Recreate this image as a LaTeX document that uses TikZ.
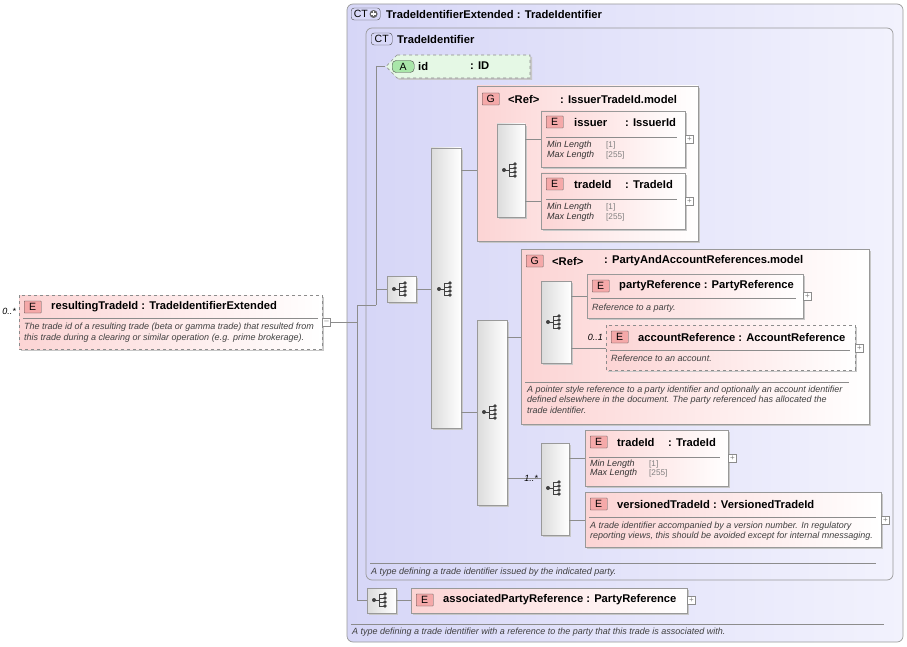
\documentclass[tikz,border=0pt]{standalone}
\usepackage{fontspec}
\setmainfont{Liberation Sans}
\begin{document}
\begin{tikzpicture}[x=1pt,y=-1pt,
  ct/.style={draw=black!40,rounded corners=6pt,left color=ctL,right color=ctR,line width=0.7pt},
  elem/.style={draw=black!40,left color=elL,right color=white,line width=0.6pt},
  opt/.style={dashed,draw=black!45},
  seqb/.style={draw=black!40,left color=black!14,right color=white,line width=0.6pt},
  badge/.style={draw=black!70,rounded corners=0.5pt,fill=#1,inner sep=0pt,minimum width=17pt,minimum height=12pt,font=\fontsize{10.5}{11}\selectfont,anchor=west},
  ttl/.style={anchor=west,inner sep=0pt,font=\fontsize{11.2}{13}\selectfont\bfseries},
  dsc/.style={anchor=west,inner sep=0pt,font=\fontsize{9}{10}\selectfont\itshape,text=black!75},
  fct/.style={anchor=west,inner sep=0pt,font=\fontsize{9}{10}\selectfont\itshape,text=black!80},
  fv/.style={anchor=west,inner sep=0pt,font=\fontsize{8.2}{10}\selectfont,text=black!50},
  card/.style={anchor=east,inner sep=0pt,font=\fontsize{9}{10}\selectfont\itshape},
  conn/.style={draw=black!45,line width=0.6pt},
  pm/.style={draw=black!45,fill=white,minimum size=8pt,inner sep=0pt,font=\fontsize{8}{8}\selectfont,text=black!50}]
\definecolor{ctL}{HTML}{D6D6F7}\definecolor{ctR}{HTML}{F2F2FD}
\definecolor{elL}{HTML}{FCD4D4}\definecolor{eB}{HTML}{F5A9A9}
\definecolor{aB}{HTML}{A9E6A9}\definecolor{cB}{HTML}{D8D8F8}
\newcommand\shd[4]{\fill[black!22] (#1+2,#2+2) rectangle (#3+2,#4+2);}
\newcommand\seqicon[2]{%
  \fill[black!75] (#1-8,#2) circle (2);
  \draw[black!75,line width=0.9pt] (#1-8,#2) -- (#1-3,#2) (#1-3,#2-6) -- (#1-3,#2+6);
  \foreach \d in {-6,-2,2,6}{\draw[black!75,line width=0.9pt] (#1-3,#2+\d) -- (#1+2,#2+\d); \fill[black!75] (#1+3,#2+\d) circle (1.8);}}
\useasboundingbox (0,0) rectangle (907,647);
% outer CT
\draw[ct] (347,4) rectangle (903,642);
\node[badge=cB,rounded corners=3pt,minimum width=29pt] (b1) at (351,14) {CT\,\tikz[baseline=-3.5pt,x=1pt,y=1pt]{\fill[black!60] (0,0) circle (4);\draw[white,line width=1.2pt] (-2.5,0)--(2.5,0) (0,-2.5)--(0,2.5);}};
\node[ttl] (t1) at (386,14) {TradeIdentifierExtended\ : TradeIdentifier};
\draw[black!45] (351,624) -- (884,624);
\node[dsc] at (352,632) {A type defining a trade identifier with a reference to the party that this trade is associated with.};
% inner CT
\draw[ct] (366,28) rectangle (893,580);
\node[badge=cB,rounded corners=3pt,minimum width=21pt] (b2) at (371,39) {CT};
\node[ttl] (t2) at (397,39) {TradeIdentifier};
\draw[black!45] (370,563) -- (876,563);
\node[dsc] at (371,572) {A type defining a trade identifier issued by the indicated party.};
% trunk lines
\coordinate (r) at (331,322);
\draw[conn] (r) -- (357,322) (357,305) -- (357,600) (357,305) -- (376,305) (376,66) -- (376,305);
\draw[conn] (376,66) -- (385,66) (376,289) -- (387,289) (357,600) -- (367,600);
% attribute id
\fill[black!22] (399,57) -- (532,57) -- (532,80) -- (399,80) -- (389,69) -- cycle;
\draw[opt,fill=aB!30,line width=0.6pt] (397,55) -- (530,55) -- (530,78) -- (397,78) -- (386,66.5) -- cycle;
\node[badge=aB,rounded corners=4pt,minimum width=22pt] at (392,66.5) {A};
\node[ttl] at (418,66) {id};
\node[ttl] at (470,66) {: ID};
% resultingTradeId
\shd{19}{295}{322}{349}
\draw[elem,opt] (19,295) rectangle (322,349);
\node[badge=eB] at (24,307) {E};
\node[ttl] at (51,307) {resultingTradeId\ : TradeIdentifierExtended};
\draw[black!45] (23,318) -- (318,318);
\node[dsc] at (24,327) {The trade id of a resulting trade (beta or gamma trade) that resulted from};
\node[dsc] at (24,338) {this trade during a clearing or similar operation (e.g. prime brokerage).};
\node[card] at (16,311) {0..*};
\node[pm] at (326.5,322) {--};
% seq 1
\shd{387}{276}{416}{302}\draw[seqb] (387,276) rectangle (416,302);\seqicon{402}{289}
\draw[conn] (416,289) -- (431,289);
% big seq
\shd{431}{148}{461}{428}\draw[seqb] (431,148) rectangle (461,428);\seqicon{447}{289}
\draw[conn] (461,170) -- (497,170) (461,412) -- (477,412);
% group IssuerTradeId
\shd{477}{86}{698}{241}\draw[elem] (477,86) rectangle (698,241);
\node[badge=eB] at (482,99) {G};
\node[ttl] at (508,99) {<Ref>};
\node[ttl] at (560,99) {: IssuerTradeId.model};
\shd{497}{124}{525}{217}\draw[seqb] (497,124) rectangle (525,217);\seqicon{512}{170}
\draw[conn] (525,139) -- (541,139) (525,201) -- (541,201);
% issuer
\shd{541}{111}{685}{167}\draw[elem] (541,111) rectangle (685,167);
\node[badge=eB] at (546,122) {E};
\node[ttl] at (574,122) {issuer};
\node[ttl] at (625,122) {: IssuerId};
\draw[black!45] (546,137) -- (677,137);
\node[fct] at (547,145) {Min Length};\node[fv] at (606,145) {[1]};
\node[fct] at (547,155) {Max Length};\node[fv] at (606,155) {[255]};
\node[pm] at (689.5,139) {+};
% tradeId
\shd{541}{173}{685}{229}\draw[elem] (541,173) rectangle (685,229);
\node[badge=eB] at (546,184) {E};
\node[ttl] at (574,184) {tradeId};
\node[ttl] at (625,184) {: TradeId};
\draw[black!45] (546,199) -- (677,199);
\node[fct] at (547,207) {Min Length};\node[fv] at (606,207) {[1]};
\node[fct] at (547,217) {Max Length};\node[fv] at (606,217) {[255]};
\node[pm] at (689.5,201) {+};
% lower seq
\shd{477}{320}{507}{505}\draw[seqb] (477,320) rectangle (507,505);\seqicon{492}{412}
\draw[conn] (507,337) -- (521,337) (507,478) -- (541,478);
% group PartyAndAccountReferences
\shd{521}{249}{869}{424}\draw[elem] (521,249) rectangle (869,424);
\node[badge=eB] at (526,261) {G};
\node[ttl] at (552,261) {<Ref>};
\node[ttl] at (604,261) {: PartyAndAccountReferences.model};
\shd{541}{281}{571}{363}\draw[seqb] (541,281) rectangle (571,363);\seqicon{556}{322}
\draw[conn] (571,296) -- (587,296) (571,348) -- (606,348);
\shd{587}{274}{803}{318}\draw[elem] (587,274) rectangle (803,318);
\node[badge=eB] at (592,286) {E};
\node[ttl] at (619,286) {partyReference\ : PartyReference};
\draw[black!45] (591,298) -- (796,298);
\node[dsc] at (592,308) {Reference to a party.};
\node[pm] at (807.5,296) {+};
\shd{606}{325}{855}{370}\draw[elem,opt] (606,325) rectangle (855,370);
\node[badge=eB] at (611,337) {E};
\node[ttl] at (638,337) {accountReference\ : AccountReference};
\draw[black!45] (610,350) -- (850,350);
\node[dsc] at (611,358) {Reference to an account.};
\node[card] at (603,337) {0..1};
\node[pm] at (859.5,348) {+};
\draw[black!45] (525,382) -- (849,382);
\node[dsc] at (527,390) {A pointer style reference to a party identifier and optionally an account identifier};
\node[dsc] at (527,400) {defined elsewhere in the document. The party referenced has allocated the};
\node[dsc] at (527,410) {trade identifier.};
% seq 1..*
\shd{541}{443}{569}{535}\draw[seqb] (541,443) rectangle (569,535);\seqicon{556}{488}
\node[card] at (538,478) {1..*};
\draw[conn] (569,458) -- (585,458) (569,520) -- (585,520);
\shd{585}{430}{728}{486}\draw[elem] (585,430) rectangle (728,486);
\node[badge=eB] at (590,442) {E};
\node[ttl] at (617,442) {tradeId};
\node[ttl] at (668,442) {: TradeId};
\draw[black!45] (589,457) -- (720,457);
\node[fct] at (590,464) {Min Length};\node[fv] at (649,464) {[1]};
\node[fct] at (590,473) {Max Length};\node[fv] at (649,473) {[255]};
\node[pm] at (732.5,458) {+};
\shd{585}{492}{881}{547}\draw[elem] (585,492) rectangle (881,547);
\node[badge=eB] at (590,504) {E};
\node[ttl] at (617,504) {versionedTradeId\ : VersionedTradeId};
\draw[black!45] (589,517) -- (876,517);
\node[dsc] at (590,526) {A trade identifier accompanied by a version number. In regulatory};
\node[dsc] at (590,536) {reporting views, this should be avoided except for internal mnessaging.};
\node[pm] at (885.5,520) {+};
% associatedPartyReference
\shd{367}{588}{396}{613}\draw[seqb] (367,588) rectangle (396,613);\seqicon{382}{600}
\draw[conn] (396,600) -- (411,600);
\shd{411}{588}{687}{613}\draw[elem] (411,588) rectangle (687,613);
\node[badge=eB] at (416,600) {E};
\node[ttl] at (443,600) {associatedPartyReference\ : PartyReference};
\node[pm] at (691.5,600) {+};
\end{tikzpicture}
\end{document}
